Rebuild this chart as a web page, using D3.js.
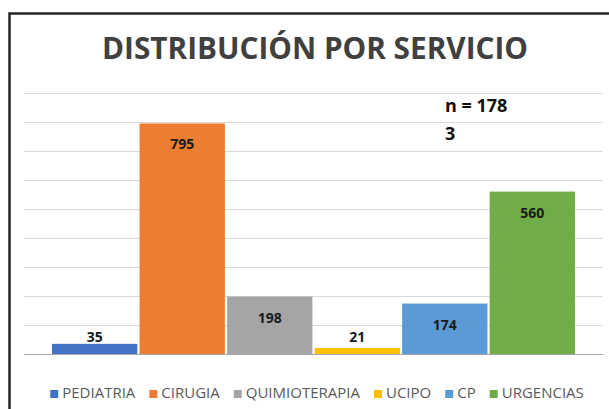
<!DOCTYPE html>
<html><head><meta charset="utf-8">
<script src="https://cdn.jsdelivr.net/npm/d3@7"></script>
<style>html,body{margin:0;padding:0;background:#fff;}svg{display:block;}</style>
</head><body>
<svg id="chart" width="609" height="409"></svg>
<script>
const categories = ["PEDIATRIA", "CIRUGIA", "QUIMIOTERAPIA", "UCIPO", "CP", "URGENCIAS"];
const values = [35, 795, 198, 21, 174, 560];
const colors = ["#4472C4", "#ED7D31", "#A5A5A5", "#FFC000", "#5B9BD5", "#70AD47"];
const yTicks = [0, 100, 200, 300, 400, 500, 600, 700, 800, 900];
const title = "DISTRIBUCIÓN POR SERVICIO";
const noteLines = ["n = 178", "3"];

const svg = d3.select("#chart");
const W = 609, H = 409;
const plot = {left: 24, right: 603, top: 93, bottom: 354};

svg.append("rect").attr("x", 0).attr("y", 0).attr("width", W).attr("height", H).attr("fill", "#fff");
// outer frame
svg.append("rect").attr("x", 9.5).attr("y", 13.5).attr("width", W + 20).attr("height", H + 20)
  .attr("fill", "none").attr("stroke", "#262626").attr("stroke-width", 2.5);

const y = d3.scaleLinear().domain([0, 900]).range([plot.bottom, plot.top]);
const inset = 28;
const x = d3.scaleBand().domain(categories).range([plot.left + inset, plot.right - inset]).paddingInner(0.025);

// gridlines
svg.append("g").selectAll("line").data(yTicks.filter(d => d > 0)).join("line")
  .attr("x1", plot.left).attr("x2", plot.right)
  .attr("y1", d => Math.round(y(d)) + 0.5).attr("y2", d => Math.round(y(d)) + 0.5)
  .attr("stroke", "#d9d9d9").attr("stroke-width", 1);

// bars
svg.append("g").selectAll("rect").data(categories).join("rect")
  .attr("x", d => x(d)).attr("width", x.bandwidth())
  .attr("y", (d, i) => y(values[i])).attr("height", (d, i) => y(0) - y(values[i]))
  .attr("fill", (d, i) => colors[i]);

// baseline
svg.append("line").attr("x1", plot.left).attr("x2", plot.right)
  .attr("y1", y(0) + 0.5).attr("y2", y(0) + 0.5).attr("stroke", "#a6a6a6").attr("stroke-width", 1);

// value labels
svg.append("g").selectAll("text").data(categories).join("text")
  .attr("x", d => x(d) + x.bandwidth() / 2)
  .attr("y", (d, i) => Math.min(y(values[i]) + 21, 337) + 5)
  .attr("text-anchor", "middle")
  .attr("font-family", "'Open Sans', sans-serif").attr("font-weight", "bold").attr("font-size", 14)
  .attr("fill", "#1a1a1a")
  .text((d, i) => values[i]);

// title
svg.append("text").attr("x", 315).attr("y", 58.5).attr("text-anchor", "middle")
  .attr("font-family", "'Open Sans', sans-serif").attr("font-weight", "bold").attr("font-size", 30)
  .attr("fill", "#404040").attr("textLength", 426).attr("lengthAdjust", "spacingAndGlyphs")
  .text(title);

// annotation
svg.append("g").selectAll("text").data(noteLines).join("text")
  .attr("x", 445).attr("y", (d, i) => 112 + i * 28)
  .attr("font-family", "'Open Sans', sans-serif").attr("font-weight", "bold").attr("font-size", 18)
  .attr("fill", "#111").text(d => d);

// legend
const lg = svg.append("g");
const items = lg.selectAll("g").data(categories).join("g");
items.append("rect").attr("width", 8).attr("height", 8).attr("y", -8).attr("fill", (d, i) => colors[i]);
items.append("text").attr("x", 12).attr("y", 0)
  .attr("font-family", "'Open Sans', sans-serif").attr("font-size", 15).attr("fill", "#595959")
  .text(d => d);
let cx = 0; const gap = 14; const offs = [];
items.each(function(d) {
  offs.push(cx);
  const w = d3.select(this).select("text").node().getComputedTextLength();
  cx += 12 + w + gap;
});
const total = cx - gap;
const start = 317 - total / 2;
items.attr("transform", (d, i) => `translate(${start + offs[i]},398)`);
</script>
</body></html>
